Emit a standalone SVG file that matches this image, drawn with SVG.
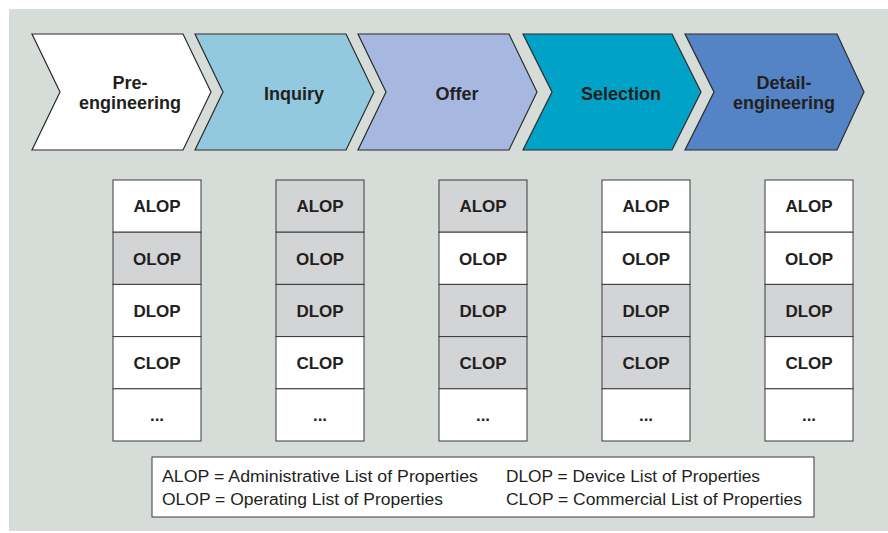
<svg xmlns="http://www.w3.org/2000/svg" width="888" height="533" viewBox="0 0 888 533">
<style>
.chev{stroke:#2b2b2b;stroke-width:1.2;stroke-linejoin:miter}
.ph{font-family:"Liberation Sans",Arial,sans-serif;font-weight:bold;font-size:18px;fill:#231f20;text-anchor:middle}
.cell{fill:#ffffff;stroke:#3a3a3a;stroke-width:1}
.cell.g{fill:#d3d4d6}
.ct{font-family:"Liberation Sans",Arial,sans-serif;font-weight:bold;font-size:17px;fill:#231f20;text-anchor:middle}
.lg{font-family:"Liberation Sans",Arial,sans-serif;font-size:16px;fill:#231f20}
</style>
<rect x="0" y="0" width="888" height="533" fill="#ffffff"/>
<rect x="9" y="9" width="879" height="522" fill="#d6ddd9"/>

<g id="phase-preengineering">
<polygon class="chev" fill="#ffffff" points="32,34 183,34 211,92 183,150 32,150 60,92"/>
<text class="ph" x="130" y="89">Pre-</text>
<text class="ph" x="130" y="109">engineering</text>
</g>
<g id="phase-inquiry">
<polygon class="chev" fill="#93c9de" points="195,34 346,34 374,92 346,150 195,150 223,92"/>
<text class="ph" x="294" y="100">Inquiry</text>
</g>
<g id="phase-offer">
<polygon class="chev" fill="#a6b8e0" points="358,34 509,34 537,92 509,150 358,150 386,92"/>
<text class="ph" x="457" y="100">Offer</text>
</g>
<g id="phase-selection">
<polygon class="chev" fill="#00a3c7" points="523,34 672,34 701,92 672,150 523,150 552,92"/>
<text class="ph" x="621" y="100">Selection</text>
</g>
<g id="phase-detailengineering">
<polygon class="chev" fill="#5484c6" points="685,34 837,34 864,92 837,150 685,150 714,92"/>
<text class="ph" x="784" y="89">Detail-</text>
<text class="ph" x="784" y="109">engineering</text>
</g>

<g id="connectors"></g>

<g id="table-preengineering">
<rect class="cell" x="113" y="180" width="88" height="52.2"/>
<rect class="cell g" x="113" y="232.2" width="88" height="52.2"/>
<rect class="cell" x="113" y="284.4" width="88" height="52.2"/>
<rect class="cell" x="113" y="336.6" width="88" height="52.2"/>
<rect class="cell" x="113" y="388.8" width="88" height="52.2"/>
<text class="ct" x="157" y="212">ALOP</text>
<text class="ct" x="157" y="264.5">OLOP</text>
<text class="ct" x="157" y="316.5">DLOP</text>
<text class="ct" x="157" y="369">CLOP</text>
<text class="ct" x="157" y="421">...</text>
</g>
<g id="table-inquiry">
<rect class="cell g" x="276" y="180" width="88" height="52.2"/>
<rect class="cell g" x="276" y="232.2" width="88" height="52.2"/>
<rect class="cell g" x="276" y="284.4" width="88" height="52.2"/>
<rect class="cell" x="276" y="336.6" width="88" height="52.2"/>
<rect class="cell" x="276" y="388.8" width="88" height="52.2"/>
<text class="ct" x="320" y="212">ALOP</text>
<text class="ct" x="320" y="264.5">OLOP</text>
<text class="ct" x="320" y="316.5">DLOP</text>
<text class="ct" x="320" y="369">CLOP</text>
<text class="ct" x="320" y="421">...</text>
</g>
<g id="table-offer">
<rect class="cell g" x="439" y="180" width="88" height="52.2"/>
<rect class="cell" x="439" y="232.2" width="88" height="52.2"/>
<rect class="cell g" x="439" y="284.4" width="88" height="52.2"/>
<rect class="cell g" x="439" y="336.6" width="88" height="52.2"/>
<rect class="cell" x="439" y="388.8" width="88" height="52.2"/>
<text class="ct" x="483" y="212">ALOP</text>
<text class="ct" x="483" y="264.5">OLOP</text>
<text class="ct" x="483" y="316.5">DLOP</text>
<text class="ct" x="483" y="369">CLOP</text>
<text class="ct" x="483" y="421">...</text>
</g>
<g id="table-selection">
<rect class="cell" x="602" y="180" width="88" height="52.2"/>
<rect class="cell" x="602" y="232.2" width="88" height="52.2"/>
<rect class="cell g" x="602" y="284.4" width="88" height="52.2"/>
<rect class="cell g" x="602" y="336.6" width="88" height="52.2"/>
<rect class="cell" x="602" y="388.8" width="88" height="52.2"/>
<text class="ct" x="646" y="212">ALOP</text>
<text class="ct" x="646" y="264.5">OLOP</text>
<text class="ct" x="646" y="316.5">DLOP</text>
<text class="ct" x="646" y="369">CLOP</text>
<text class="ct" x="646" y="421">...</text>
</g>
<g id="table-detailengineering">
<rect class="cell" x="765" y="180" width="88" height="52.2"/>
<rect class="cell" x="765" y="232.2" width="88" height="52.2"/>
<rect class="cell g" x="765" y="284.4" width="88" height="52.2"/>
<rect class="cell" x="765" y="336.6" width="88" height="52.2"/>
<rect class="cell" x="765" y="388.8" width="88" height="52.2"/>
<text class="ct" x="809" y="212">ALOP</text>
<text class="ct" x="809" y="264.5">OLOP</text>
<text class="ct" x="809" y="316.5">DLOP</text>
<text class="ct" x="809" y="369">CLOP</text>
<text class="ct" x="809" y="421">...</text>
</g>

<g id="legend">
<rect x="152" y="457" width="662" height="60" fill="#ffffff" stroke="#3a3a3a" stroke-width="1"/>
<text class="lg" x="162" y="482" textLength="316" lengthAdjust="spacingAndGlyphs">ALOP = Administrative List of Properties</text>
<text class="lg" x="162" y="505" textLength="281" lengthAdjust="spacingAndGlyphs">OLOP = Operating List of Properties</text>
<text class="lg" x="506" y="482" textLength="254" lengthAdjust="spacingAndGlyphs">DLOP = Device List of Properties</text>
<text class="lg" x="506" y="505" textLength="296" lengthAdjust="spacingAndGlyphs">CLOP = Commercial List of Properties</text>
</g>
</svg>
